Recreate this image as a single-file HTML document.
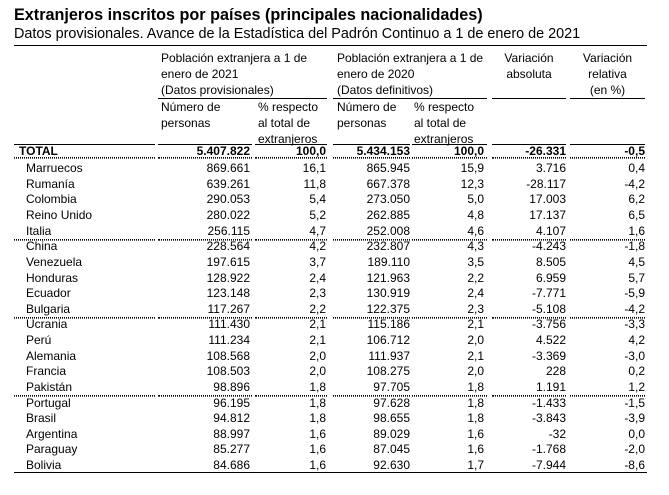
<!DOCTYPE html>
<html><head><meta charset="utf-8"><style>
body{margin:0;width:669px;height:495px;background:#fff;position:relative;overflow:hidden;font-family:"Liberation Sans",Arial,sans-serif;color:#000}
.a{position:absolute;white-space:nowrap}
.h{font-size:12px;line-height:16px}
.l{position:absolute;height:0}
.s{border-top:1.6px solid #000}
.d{border-top:1px dotted #000;border-bottom:1px dotted #555;height:0}
table{position:absolute;left:14px;border-collapse:collapse;font-size:12px}
td{padding:0;height:15.63px;line-height:15.63px;text-align:right;white-space:nowrap}
td:first-child{text-align:left;padding-left:12px}
</style></head><body>
<div class="a" style="left:14px;top:6px;font-size:16.2px;font-weight:bold;line-height:19px">Extranjeros inscritos por países (principales nacionalidades)</div>
<div class="a" style="left:14px;top:26px;font-size:14.4px;line-height:17px">Datos provisionales. Avance de la Estadística del Padrón Continuo a 1 de enero de 2021</div>
<div class="l s" style="left:14px;width:633px;top:45px"></div>

<div class="a h" style="left:161px;top:50px">Población extranjera a 1 de<br>enero de 2021<br>(Datos provisionales)</div>
<div class="a h" style="left:337px;top:50px">Población extranjera a 1 de<br>enero de 2020<br>(Datos definitivos)</div>
<div class="a h" style="left:492px;width:74px;top:50px;text-align:center">Variación<br>absoluta</div>
<div class="a h" style="left:570px;width:75px;top:50px;text-align:center">Variación<br>relativa<br>(en %)</div>
<div class="l s" style="left:158px;width:169px;top:98px"></div>
<div class="l s" style="left:333px;width:154px;top:98px"></div>
<div class="l s" style="left:492px;width:74px;top:98px"></div>
<div class="l s" style="left:570px;width:75px;top:98px"></div>

<div class="a h" style="left:161px;top:99px">Número de<br>personas</div>
<div class="a h" style="left:258px;top:99px">% respecto<br>al total de<br>extranjeros</div>
<div class="a h" style="left:337px;top:99px">Número de<br>personas</div>
<div class="a h" style="left:414px;top:99px">% respecto<br>al total de<br>extranjeros</div>

<div class="l s" style="left:14px;width:141px;top:144px"></div>
<div class="l s" style="left:158px;width:94px;top:144px"></div>
<div class="l s" style="left:255px;width:72px;top:144px"></div>
<div class="l s" style="left:333px;width:77px;top:144px"></div>
<div class="l s" style="left:412px;width:75px;top:144px"></div>
<div class="l s" style="left:492px;width:74px;top:144px"></div>
<div class="l s" style="left:570px;width:75px;top:144px"></div>

<table style="top:143.5px;font-weight:bold"><tr><td style="width:141px;padding-left:5px;box-sizing:border-box">TOTAL</td><td style="width:95px">5.407.822</td><td style="width:76px">100,0</td><td style="width:84px">5.434.153</td><td style="width:74px">100,0</td><td style="width:82px">-26.331</td><td style="width:79px">-0,5</td></tr></table>

<div class="l d" style="left:14px;width:141px;top:157px"></div>
<div class="l d" style="left:158px;width:94px;top:157px"></div>
<div class="l d" style="left:255px;width:72px;top:157px"></div>
<div class="l d" style="left:333px;width:77px;top:157px"></div>
<div class="l d" style="left:412px;width:75px;top:157px"></div>
<div class="l d" style="left:492px;width:74px;top:157px"></div>
<div class="l d" style="left:570px;width:75px;top:157px"></div>

<div class="l d" style="left:14px;width:141px;top:239px"></div><div class="l d" style="left:158px;width:94px;top:239px"></div><div class="l d" style="left:255px;width:72px;top:239px"></div><div class="l d" style="left:333px;width:77px;top:239px"></div><div class="l d" style="left:412px;width:75px;top:239px"></div><div class="l d" style="left:492px;width:74px;top:239px"></div><div class="l d" style="left:570px;width:75px;top:239px"></div>
<div class="l d" style="left:14px;width:141px;top:317px"></div><div class="l d" style="left:158px;width:94px;top:317px"></div><div class="l d" style="left:255px;width:72px;top:317px"></div><div class="l d" style="left:333px;width:77px;top:317px"></div><div class="l d" style="left:412px;width:75px;top:317px"></div><div class="l d" style="left:492px;width:74px;top:317px"></div><div class="l d" style="left:570px;width:75px;top:317px"></div>
<div class="l d" style="left:14px;width:141px;top:395px"></div><div class="l d" style="left:158px;width:94px;top:395px"></div><div class="l d" style="left:255px;width:72px;top:395px"></div><div class="l d" style="left:333px;width:77px;top:395px"></div><div class="l d" style="left:412px;width:75px;top:395px"></div><div class="l d" style="left:492px;width:74px;top:395px"></div><div class="l d" style="left:570px;width:75px;top:395px"></div>

<table style="top:161.2px">
<tr><td style="width:141px;box-sizing:border-box">Marruecos</td><td style="width:95px">869.661</td><td style="width:76px">16,1</td><td style="width:84px">865.945</td><td style="width:74px">15,9</td><td style="width:82px">3.716</td><td style="width:79px">0,4</td></tr>
<tr><td>Rumanía</td><td>639.261</td><td>11,8</td><td>667.378</td><td>12,3</td><td>-28.117</td><td>-4,2</td></tr>
<tr><td>Colombia</td><td>290.053</td><td>5,4</td><td>273.050</td><td>5,0</td><td>17.003</td><td>6,2</td></tr>
<tr><td>Reino Unido</td><td>280.022</td><td>5,2</td><td>262.885</td><td>4,8</td><td>17.137</td><td>6,5</td></tr>
<tr><td>Italia</td><td>256.115</td><td>4,7</td><td>252.008</td><td>4,6</td><td>4.107</td><td>1,6</td></tr>
<tr><td>China</td><td>228.564</td><td>4,2</td><td>232.807</td><td>4,3</td><td>-4.243</td><td>-1,8</td></tr>
<tr><td>Venezuela</td><td>197.615</td><td>3,7</td><td>189.110</td><td>3,5</td><td>8.505</td><td>4,5</td></tr>
<tr><td>Honduras</td><td>128.922</td><td>2,4</td><td>121.963</td><td>2,2</td><td>6.959</td><td>5,7</td></tr>
<tr><td>Ecuador</td><td>123.148</td><td>2,3</td><td>130.919</td><td>2,4</td><td>-7.771</td><td>-5,9</td></tr>
<tr><td>Bulgaria</td><td>117.267</td><td>2,2</td><td>122.375</td><td>2,3</td><td>-5.108</td><td>-4,2</td></tr>
<tr><td>Ucrania</td><td>111.430</td><td>2,1</td><td>115.186</td><td>2,1</td><td>-3.756</td><td>-3,3</td></tr>
<tr><td>Perú</td><td>111.234</td><td>2,1</td><td>106.712</td><td>2,0</td><td>4.522</td><td>4,2</td></tr>
<tr><td>Alemania</td><td>108.568</td><td>2,0</td><td>111.937</td><td>2,1</td><td>-3.369</td><td>-3,0</td></tr>
<tr><td>Francia</td><td>108.503</td><td>2,0</td><td>108.275</td><td>2,0</td><td>228</td><td>0,2</td></tr>
<tr><td>Pakistán</td><td>98.896</td><td>1,8</td><td>97.705</td><td>1,8</td><td>1.191</td><td>1,2</td></tr>
<tr><td>Portugal</td><td>96.195</td><td>1,8</td><td>97.628</td><td>1,8</td><td>-1.433</td><td>-1,5</td></tr>
<tr><td>Brasil</td><td>94.812</td><td>1,8</td><td>98.655</td><td>1,8</td><td>-3.843</td><td>-3,9</td></tr>
<tr><td>Argentina</td><td>88.997</td><td>1,6</td><td>89.029</td><td>1,6</td><td>-32</td><td>0,0</td></tr>
<tr><td>Paraguay</td><td>85.277</td><td>1,6</td><td>87.045</td><td>1,6</td><td>-1.768</td><td>-2,0</td></tr>
<tr><td>Bolivia</td><td>84.686</td><td>1,6</td><td>92.630</td><td>1,7</td><td>-7.944</td><td>-8,6</td></tr>
</table>
<div class="l s" style="left:14px;width:633px;top:472px"></div>
</body></html>
